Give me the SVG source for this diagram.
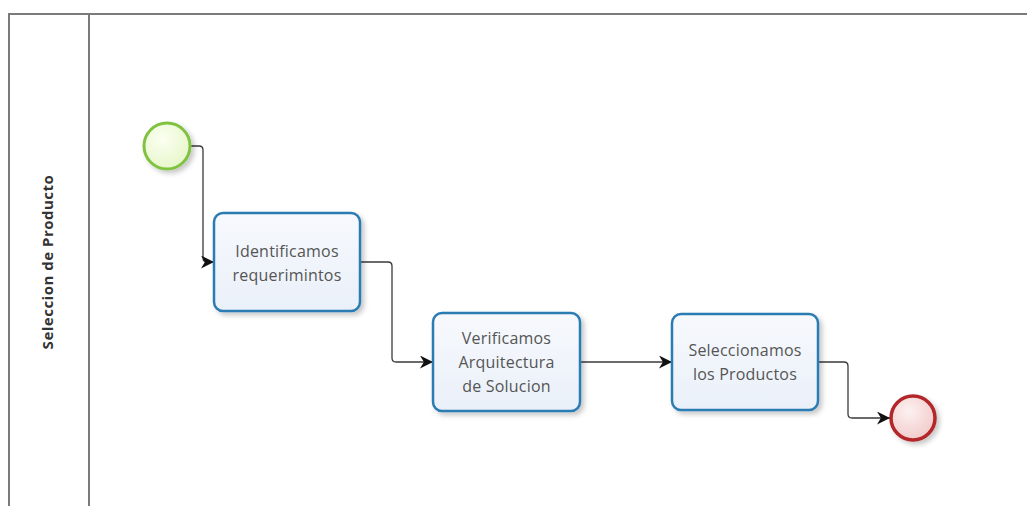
<svg xmlns="http://www.w3.org/2000/svg" width="1027" height="506" viewBox="0 0 1027 506">
  <defs>
    <style>
      .pool { fill: none; stroke: #7a7a7a; stroke-width: 2; }
      .task { fill: url(#taskFill); stroke: #2b7bb3; stroke-width: 2.5; filter: url(#shadow); }
      .label { font-family: "Open Sans", "Noto Sans", sans-serif; font-size: 16px; letter-spacing: 0.2px; fill: #555; text-anchor: middle; }
      .lane { font-family: "Open Sans", "Noto Sans", sans-serif; font-size: 15px; letter-spacing: 0.5px; font-weight: bold; fill: #333; text-anchor: middle; }
      .flow { fill: none; stroke: #3a3a3a; stroke-width: 1.3; marker-end: url(#arrow); }
    </style>
    <linearGradient id="taskFill" x1="0" y1="0" x2="0" y2="1">
      <stop offset="0" stop-color="#f7f9fd"/>
      <stop offset="1" stop-color="#eaf0f9"/>
    </linearGradient>
    <radialGradient id="startFill" cx="0.4" cy="0.35" r="0.7">
      <stop offset="0" stop-color="#fbfff2"/>
      <stop offset="1" stop-color="#e6f6c8"/>
    </radialGradient>
    <radialGradient id="endFill" cx="0.4" cy="0.35" r="0.7">
      <stop offset="0" stop-color="#fdf1f1"/>
      <stop offset="1" stop-color="#f1c9c9"/>
    </radialGradient>
    <filter id="shadow" x="-20%" y="-20%" width="150%" height="150%">
      <feDropShadow dx="3" dy="3" stdDeviation="2.5" flood-color="#000" flood-opacity="0.22"/>
    </filter>
    <marker id="arrow" viewBox="0 0 10 10" refX="10" refY="5" markerWidth="14" markerHeight="13" markerUnits="userSpaceOnUse" orient="auto">
      <path d="M0,0 L10,5 L0,10 L3,5 Z" fill="#111"/>
    </marker>
  </defs>

  <!-- pool and lane header -->
  <g id="pool">
    <path class="pool" d="M1027,14 H9 V506"/>
    <line class="pool" x1="89" y1="14" x2="89" y2="506"/>
    <text class="lane" transform="translate(53,262) rotate(-90)">Seleccion de Producto</text>
  </g>

  <!-- sequence flows -->
  <g id="connectors">
    <path class="flow" d="M190,146 H199 Q203,146 203,150 V258 Q203,262 207,262 H214"/>
    <path class="flow" d="M360,262 H388 Q392,262 392,266 V358 Q392,362 396,362 H433"/>
    <path class="flow" d="M580,362 H672"/>
    <path class="flow" d="M818,362 H844 Q848,362 848,366 V414 Q848,418 852,418 H890"/>
  </g>

  <g id="start">
    <circle cx="167" cy="146" r="23" fill="url(#startFill)" stroke="#80c343" stroke-width="3" filter="url(#shadow)"/>
  </g>

  <g id="task1">
    <rect class="task" x="214" y="213" width="146" height="98" rx="9"/>
    <text class="label" x="287" y="257">Identificamos</text>
    <text class="label" x="287" y="281">requerimintos</text>
  </g>

  <g id="task2">
    <rect class="task" x="433" y="313" width="147" height="98" rx="9"/>
    <text class="label" x="506.5" y="344">Verificamos</text>
    <text class="label" x="506.5" y="368">Arquitectura</text>
    <text class="label" x="506.5" y="392">de Solucion</text>
  </g>

  <g id="task3">
    <rect class="task" x="672" y="314" width="146" height="96" rx="9"/>
    <text class="label" x="745" y="356">Seleccionamos</text>
    <text class="label" x="745" y="380">los Productos</text>
  </g>

  <g id="end">
    <circle cx="913" cy="418" r="22" fill="url(#endFill)" stroke="#b3262b" stroke-width="3.5" filter="url(#shadow)"/>
  </g>
</svg>
